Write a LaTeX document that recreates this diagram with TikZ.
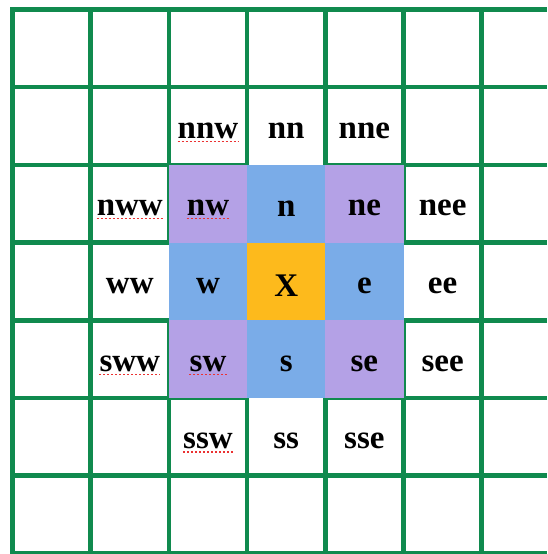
\documentclass[tikz,border=0pt]{standalone}
\usepackage{fontspec}
\setmainfont{Liberation Serif}
\usepackage{tikz}
\usetikzlibrary{
    positioning,
    calc
}
\definecolor{gridgreen}{RGB}{16,138,78}
\definecolor{cornerpurple}{RGB}{180,161,230}
\definecolor{edgeblue}{RGB}{122,172,232}
\definecolor{centerorange}{RGB}{253,186,28}
\definecolor{spellred}{RGB}{235,50,50}
\tikzset{
    gridline/.style={
        draw=gridgreen,
        line width=4.5pt
    },
    cell label/.style={
        inner sep=0pt,
        font=\fontsize{33}{36}\selectfont\bfseries
    },
    spellmark/.style={
        draw=spellred,
        dash pattern=on 2pt off 2pt,
        line width=1.2pt
    }
}

\begin{document}
\begin{tikzpicture}[
    x=1pt,
    y=-1pt
]
    \useasboundingbox (0,0) rectangle (547,554);

    % Rejilla
    \foreach \i in {0,...,7}
        \draw[gridline] (10.25,{9.5+77.7*\i}) -- (547,{9.5+77.7*\i});
    \foreach \i in {0,...,6}
        \draw[gridline] ({12.5+78.2*\i},7.25) -- ({12.5+78.2*\i},554);

    % Vecindad 3x3
    \foreach \c/\r/\col in {
        2/2/cornerpurple, 3/2/edgeblue,     4/2/cornerpurple,
        2/3/edgeblue,     3/3/centerorange, 4/3/edgeblue,
        2/4/cornerpurple, 3/4/edgeblue,     4/4/cornerpurple}
        \fill[\col] ({12.5+78.2*\c},{9.5+77.7*\r})
            rectangle ({12.5+78.2*(\c+1)},{9.5+77.7*(\r+1)});

    % Huecos en la rejilla
    \fill[white] ({12.5+78.2*3+2.25},{9.5+77.7*2-2.25})
        rectangle ({12.5+78.2*4-2.25},{9.5+77.7*2});
    \fill[white] ({12.5+78.2*3+2.25},{9.5+77.7*5})
        rectangle ({12.5+78.2*4-2.25},{9.5+77.7*5+2.25});
    \fill[white] ({12.5+78.2*2-2.25},{9.5+77.7*3+2.25})
        rectangle ({12.5+78.2*2},{9.5+77.7*4-2.25});
    \fill[white] ({12.5+78.2*5},{9.5+77.7*3+2.25})
        rectangle ({12.5+78.2*5+2.25},{9.5+77.7*4-2.25});

    % Etiquetas
    \foreach \lbl/\c/\r in {
        nnw/2/1, nn/3/1, nne/4/1,
        nww/1/2, nw/2/2, n/3/2, ne/4/2, nee/5/2,
        ww/1/3,  w/2/3,  X/3/3, e/4/3,  ee/5/3,
        sww/1/4, sw/2/4, s/3/4, se/4/4, see/5/4,
        ssw/2/5, ss/3/5, sse/4/5}
        \node[cell label] (\lbl) at ({51.6+78.2*\c},{48.35+77.7*\r+4.5}) {\lbl};

    % Subrayado ortografico
    \foreach \w in {nnw,nww,nw,sww,sw,ssw}
        \draw[spellmark] ([yshift=-2.5pt]\w.south west) -- ([yshift=-2.5pt]\w.south east);

\end{tikzpicture}
\end{document}
